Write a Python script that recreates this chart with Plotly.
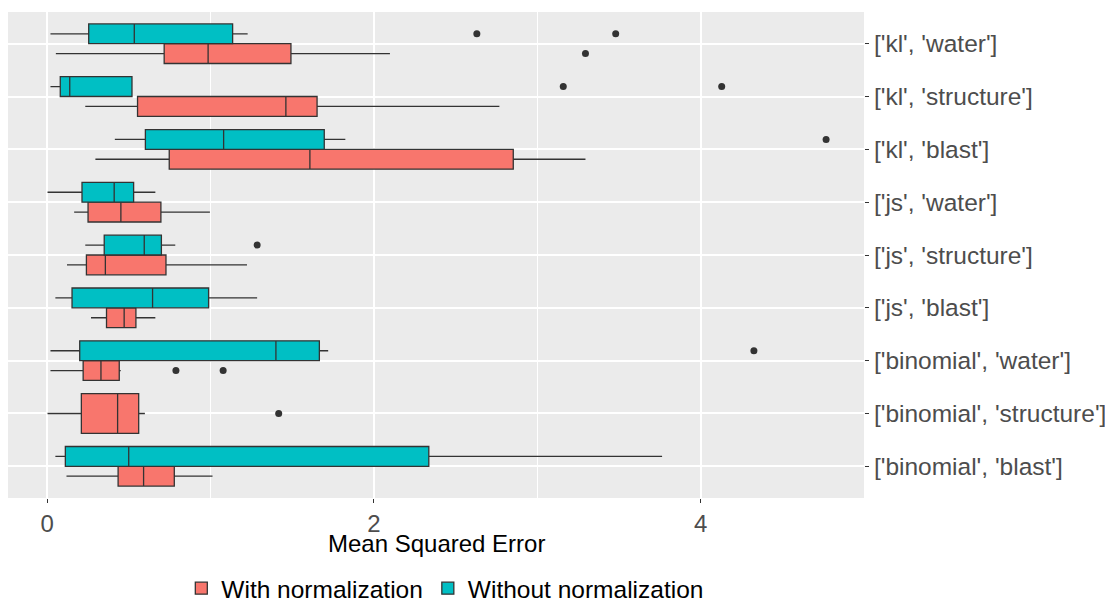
import plotly.graph_objects as go

# Categories, bottom to top
categories = ["['binomial', 'blast']", "['binomial', 'structure']", "['binomial', 'water']",
              "['js', 'blast']", "['js', 'structure']", "['js', 'water']",
              "['kl', 'blast']", "['kl', 'structure']", "['kl', 'water']"]

# With normalization (all categories except binomial structure, which is drawn alone)
with_cats = ["['binomial', 'blast']", "['binomial', 'water']",
             "['js', 'blast']", "['js', 'structure']", "['js', 'water']",
             "['kl', 'blast']", "['kl', 'structure']", "['kl', 'water']"]
with_low = [0.118, 0.020, 0.268, 0.121, 0.165, 0.295, 0.233, 0.053]
with_q1 = [0.434, 0.220, 0.363, 0.240, 0.250, 0.747, 0.553, 0.716]
with_med = [0.590, 0.329, 0.471, 0.356, 0.451, 1.608, 1.461, 0.985]
with_q3 = [0.778, 0.441, 0.543, 0.727, 0.696, 2.853, 1.652, 1.492]
with_high = [1.012, 0.450, 0.662, 1.223, 0.996, 3.295, 2.768, 2.098]
with_outliers = {"['binomial', 'water']": [0.788, 1.077], "['kl', 'water']": [3.295]}

# With normalization, binomial structure (only group present at this category)
single_cat = ["['binomial', 'structure']"]
single_low = [0.002]
single_q1 = [0.209]
single_med = [0.431]
single_q3 = [0.560]
single_high = [0.598]
single_outliers = [1.417]

# Without normalization
wo_cats = ["['binomial', 'blast']", "['binomial', 'water']",
           "['js', 'blast']", "['js', 'structure']", "['js', 'water']",
           "['kl', 'blast']", "['kl', 'structure']", "['kl', 'water']"]
wo_low = [0.050, 0.020, 0.050, 0.233, 0.002, 0.414, 0.020, 0.020]
wo_q1 = [0.111, 0.199, 0.152, 0.349, 0.213, 0.601, 0.080, 0.254]
wo_med = [0.499, 1.400, 0.645, 0.594, 0.410, 1.080, 0.138, 0.533]
wo_q3 = [2.336, 1.666, 0.988, 0.699, 0.529, 1.696, 0.519, 1.135]
wo_high = [3.764, 1.720, 1.285, 0.784, 0.662, 1.825, 0.520, 1.227]
wo_outliers = {"['binomial', 'water']": [4.326], "['js', 'structure']": [1.285],
               "['kl', 'blast']": [4.768], "['kl', 'structure']": [3.159, 4.129],
               "['kl', 'water']": [2.630, 3.480]}

RED = "#F8766D"
TEAL = "#00BFC4"
LINE = "#333333"
FONT = "Liberation Sans, Arial, sans-serif"

pos = {c: i + 1 for i, c in enumerate(categories)}
BOXGAP = 0.25
half = (1 - BOXGAP) / 4.0  # dodge offset for two groups

fig = go.Figure()

def box(name, cats, lo, q1, med, q3, hi, color, ag, og, showlegend):
    return go.Box(
        name=name, y=[pos[c] for c in cats], orientation="h",
        lowerfence=lo, q1=q1, median=med, q3=q3, upperfence=hi,
        fillcolor=color, line=dict(color=LINE, width=1.3), whiskerwidth=0,
        alignmentgroup=ag, offsetgroup=og, boxpoints=False,
        showlegend=showlegend, legendgroup=name, hoverinfo="skip")

fig.add_trace(box("With normalization", with_cats, with_low, with_q1, with_med, with_q3, with_high,
                  RED, "main", "with", True))
fig.add_trace(box("Without normalization", wo_cats, wo_low, wo_q1, wo_med, wo_q3, wo_high,
                  TEAL, "main", "without", True))
fig.add_trace(box("With normalization", single_cat, single_low, single_q1, single_med, single_q3,
                  single_high, RED, "single", "with_single", False))

def outlier_trace(d, offset):
    xs, ys = [], []
    for c, vals in d.items():
        for v in vals:
            xs.append(v)
            ys.append(pos[c] + offset)
    return go.Scatter(x=xs, y=ys, mode="markers", showlegend=False, hoverinfo="skip",
                      marker=dict(color=LINE, size=7))

fig.add_trace(outlier_trace(with_outliers, -half))
fig.add_trace(outlier_trace(wo_outliers, half))
fig.add_trace(go.Scatter(x=single_outliers, y=[pos[single_cat[0]]] * len(single_outliers),
                         mode="markers", showlegend=False, hoverinfo="skip",
                         marker=dict(color=LINE, size=7)))

fig.update_layout(
    width=1105, height=599,
    margin=dict(l=8, r=241, t=12, b=101, autoexpand=False),
    paper_bgcolor="white", plot_bgcolor="#EBEBEB",
    boxmode="group", boxgap=BOXGAP, boxgroupgap=0,
    font=dict(family=FONT, size=24, color="black"),
    legend=dict(orientation="h", xref="container", x=0.403, xanchor="center",
                yref="container", y=0.018, yanchor="middle",
                font=dict(size=24.5, color="black"), bgcolor="rgba(0,0,0,0)"),
    annotations=[dict(text="Mean Squared Error", xref="paper", yref="paper", x=0.5, y=-0.0926,
                      xanchor="center", yanchor="middle", showarrow=False,
                      font=dict(size=24, color="black"))],
)
fig.update_xaxes(range=[-0.24, 5.0], tickvals=[0, 2, 4], ticktext=["0", "2", "4"],
                 showgrid=True, gridcolor="white", gridwidth=1.8, zeroline=False,
                 ticks="outside", ticklen=4, tickcolor=LINE, tickwidth=1.2,
                 tickfont=dict(size=24, color="#4D4D4D"),
                 minor=dict(tickvals=[1, 3, 5], showgrid=True, gridcolor="white", gridwidth=0.9, ticks=""),
                 showline=False)
fig.update_yaxes(range=[0.4, 9.6], tickvals=[pos[c] for c in categories], ticktext=categories,
                 side="right", showgrid=True, gridcolor="white", gridwidth=1.8, zeroline=False,
                 ticks="outside", ticklen=4, tickcolor=LINE, tickwidth=1.2,
                 tickfont=dict(size=24.5, color="#4D4D4D"), showline=False)

fig.write_html("out.html")
